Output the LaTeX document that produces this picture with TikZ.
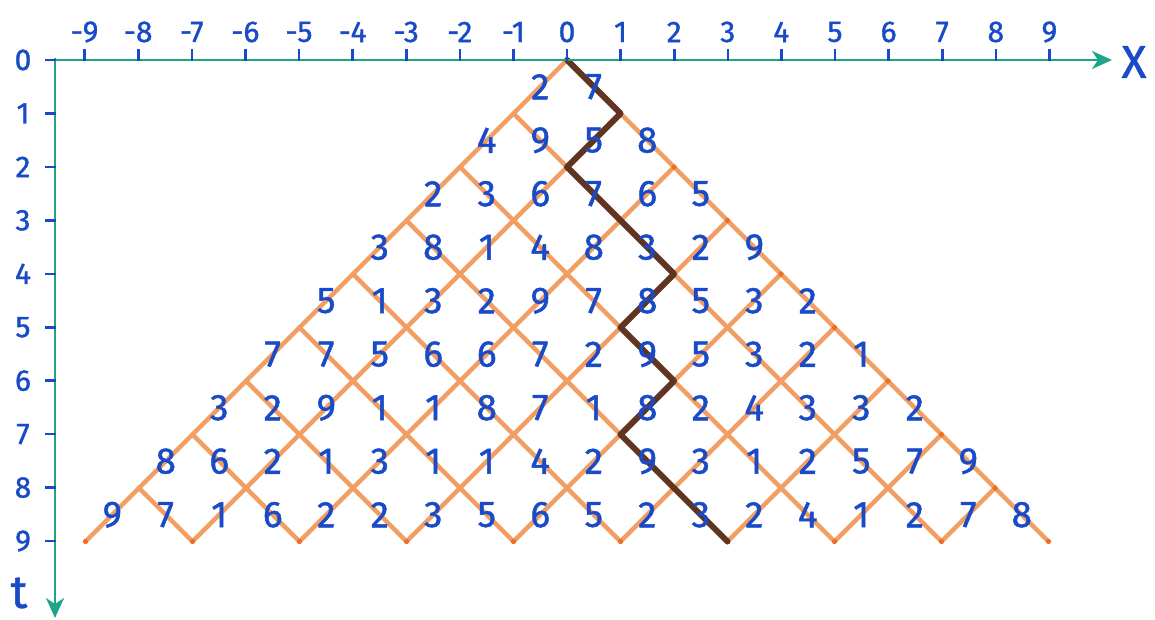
\documentclass[tikz,border=0pt]{standalone}
\usepackage{fontspec}
\setmainfont{Fira Sans}
\newfontfamily\inkfont[FakeBold=1.2]{Fira Sans}
\usetikzlibrary{arrows.meta}
\definecolor{lineorange}{RGB}{242,158,98}
\definecolor{dotorange}{RGB}{236,110,40}
\definecolor{pathbrown}{RGB}{95,52,32}
\definecolor{axisgreen}{RGB}{30,165,135}
\definecolor{inkblue}{RGB}{25,75,200}
\begin{document}
\begin{tikzpicture}[x=0.5pt,y=-0.5pt,
  grid/.style={lineorange, line width=2.2pt, line cap=round},
  walk/.style={pathbrown, line width=3pt, line cap=round, line join=round},
  axis/.style={axisgreen, line width=1.4pt},
  tickmark/.style={inkblue, line width=1.3pt},
  digit/.style={inkblue, font=\inkfont\fontsize{18.5}{18.5}\selectfont, inner sep=0pt},
  ticklabel/.style={inkblue, font=\inkfont\fontsize{15}{15}\selectfont, inner sep=0pt},
  axislabel/.style={inkblue, font=\inkfont\fontsize{23}{23}\selectfont, inner sep=0pt},
  enddot/.style={fill=dotorange, draw=none, circle, inner sep=0pt, minimum size=2.6pt},
  axisarrow/.style={-{Stealth[length=10pt,width=9pt,inset=3pt]}},
]
\useasboundingbox (0,0) rectangle (1155,620);
\fill[white] (0,0) rectangle (1155,620);

% lattice, brown walk and digits
\begin{scope}[shift={(567,60)}, x=26.75pt, y=-26.75pt]
  \foreach \k in {0,...,9} {
    \coordinate (L\k) at (-\k,\k);
    \coordinate (R\k) at (\k,\k);
    \coordinate (B\k) at ({2*\k-9},9);
  }
  \foreach \k in {0,...,8} {
    \pgfmathtruncatemacro\j{9-\k}
    \draw[grid] (L\k) -- (B\j);
    \draw[grid] (R\k) -- (B\k);
  }
  \foreach \k in {1,...,8} { \node[enddot] (rd\k) at (R\k) {}; }
  \foreach \k in {0,...,9} { \node[enddot] (bd\k) at (B\k) {}; }

  \coordinate (W0) at (0,0);
  \coordinate (W1) at (1,1);
  \coordinate (W2) at (0,2);
  \coordinate (W3) at (2,4);
  \coordinate (W4) at (1,5);
  \coordinate (W5) at (2,6);
  \coordinate (W6) at (1,7);
  \coordinate (W7) at (3,9);
  \draw[walk] (W0) -- (W1) -- (W2) -- (W3) -- (W4) -- (W5) -- (W6) -- (W7);

  \foreach \d [count=\i from 0] in {2,7}
    \node[digit] (da-\i) at ({\i-0.5},0.5) {\d};
  \foreach \d [count=\i from 0] in {4,9,5,8}
    \node[digit] (db-\i) at ({\i-1.5},1.5) {\d};
  \foreach \d [count=\i from 0] in {2,3,6,7,6,5}
    \node[digit] (dc-\i) at ({\i-2.5},2.5) {\d};
  \foreach \d [count=\i from 0] in {3,8,1,4,8,3,2,9}
    \node[digit] (dd-\i) at ({\i-3.5},3.5) {\d};
  \foreach \d [count=\i from 0] in {5,1,3,2,9,7,8,5,3,2}
    \node[digit] (de-\i) at ({\i-4.5},4.5) {\d};
  \foreach \d [count=\i from 0] in {7,7,5,6,6,7,2,9,5,3,2,1}
    \node[digit] (df-\i) at ({\i-5.5},5.5) {\d};
  \foreach \d [count=\i from 0] in {3,2,9,1,1,8,7,1,8,2,4,3,3,2}
    \node[digit] (dg-\i) at ({\i-6.5},6.5) {\d};
  \foreach \d [count=\i from 0] in {8,6,2,1,3,1,1,4,2,9,3,1,2,5,7,9}
    \node[digit] (dh-\i) at ({\i-7.5},7.5) {\d};
  \foreach \d [count=\i from 0] in {9,7,1,6,2,2,3,5,6,5,2,3,2,4,1,2,7,8}
    \node[digit] (di-\i) at ({\i-8.5},8.5) {\d};
\end{scope}

% axes
\coordinate (XS) at (47,60);
\coordinate (XE) at (1112,60);
\coordinate (TS) at (55,58);
\coordinate (TE) at (55,618);
\draw[axis, axisarrow] (XS) -- (XE);
\draw[axis, axisarrow] (TS) -- (TE);
\node[axislabel] (xlab) at (1134,62) {X};
\node[axislabel] (tlab) at (19,593) {t};

\foreach \i in {-9,...,9} {
  \draw[tickmark] ({567+53.6*\i},49) -- ++(0,12);
  \node[ticklabel] (xl\i) at ({567+53.6*\i},32) {\i};
}
\foreach \k in {0,...,9} {
  \draw[tickmark] (45,{60+53.45*\k}) -- ++(11,0);
  \node[ticklabel] (tl\k) at (23,{60+53.45*\k}) {\k};
}
\end{tikzpicture}
\end{document}
